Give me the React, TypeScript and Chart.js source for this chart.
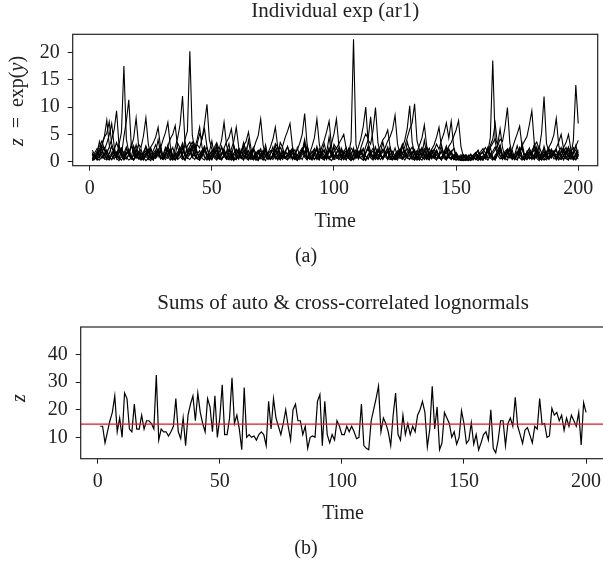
import React, { useEffect, useRef } from "react";
import { Chart, registerables } from "chart.js";
Chart.register(...registerables);

// ---------- axis settings ----------
const timeMin = -6.96;
const timeMax = 207.96;
const xTicks = [0, 50, 100, 150, 200];
const yTicksA = [0, 5, 10, 15, 20];
const yTicksB = [10, 20, 30, 40];
const yMinA = -0.73;
const yMaxA = 23.29;
const yMinB = 2.27;
const yMaxB = 49.9;
const meanLevel = 14.8;

const titleA = "Individual exp (ar1)";
const titleB = "Sums of auto & cross-correlated lognormals";
const xLabel = "Time";

// ---------- panel (a): individual series ----------
const s1 = [
  0.8, 1.2, 0.4, 1.9, 2.4, 1.1, 0.6, 1.5, 2.8, 1.3,
  0.9, 3.1, 5.4, 17.5, 4.2, 1.6, 0.5, 1.2, 2.2, 0.7,
  0.3, 1.4, 2.9, 1.7, 0.9, 0.4, 1.3, 2.1, 3.0, 0.8,
  1.1, 2.6, 1.9, 0.5, 1.2, 3.4, 2.5, 1.4, 4.1, 5.6,
  20.2, 4.8, 2.3, 1.5, 0.9, 1.7, 2.8, 1.2, 0.3, 1.0,
  1.8, 3.2, 1.3, 0.6, 0.9, 1.6, 2.2, 0.9, 0.4, 0.5,
  0.9, 1.5, 2.7, 0.6, 1.3, 2.0, 0.8, 0.3, 0.4, 0.8,
  1.4, 2.3, 1.0, 0.5, 1.1, 3.3, 2.7, 1.5, 0.8, 0.6,
  1.0, 1.7, 2.5, 0.7, 0.4, 1.2, 1.9, 3.6, 0.9, 0.5,
  0.8, 1.6, 2.1, 1.2, 0.6, 1.0, 0.5, 2.4, 1.8, 1.1,
  0.7, 1.3, 2.0, 0.6, 0.9, 1.6, 3.8, 22.4, 3.1, 1.2,
  0.6, 0.3, 1.7, 2.3, 1.5, 0.8, 0.4, 2.0, 1.3, 0.7,
  1.1, 1.8, 2.6, 0.9, 0.5, 1.5, 2.2, 1.6, 0.8, 1.2,
  1.9, 2.7, 1.5, 0.4, 1.3, 2.1, 1.4, 0.7, 0.3, 1.6,
  2.3, 1.2, 0.6, 0.9, 1.4, 2.0, 0.7, 0.8, 1.1, 1.7,
  1.0, 0.6, 0.3, 0.5, 0.9, 0.5, 0.7, 1.2, 0.8, 1.4,
  1.9, 2.6, 1.8, 4.4, 18.5, 3.6, 1.7, 1.1, 0.4, 1.5,
  2.2, 0.8, 0.9, 1.3, 2.9, 1.4, 0.5, 1.1, 1.7, 2.4,
  1.5, 0.6, 1.2, 1.8, 0.7, 0.3, 1.0, 1.6, 2.3, 1.4,
  0.8, 1.1, 1.7, 2.5, 1.6, 0.9, 1.3, 3.9, 14.0, 7.0,
];
const s2 = [
  1.7, 0.9, 0.3, 1.1, 1.8, 2.6, 1.4, 0.4, 1.3, 2.2,
  3.5, 2.1, 1.2, 4.6, 7.4, 11.3, 3.2, 1.5, 0.6, 1.4,
  2.3, 0.6, 1.0, 0.4, 1.2, 2.0, 3.1, 1.8, 0.7, 0.8,
  1.5, 2.2, 0.9, 0.5, 2.6, 4.3, 6.8, 12.0, 3.7, 1.9,
  1.2, 2.5, 3.3, 1.8, 0.6, 1.6, 2.4, 0.7, 0.4, 1.3,
  2.0, 1.4, 0.5, 1.2, 1.9, 1.0, 0.4, 1.0, 1.6, 2.3,
  1.5, 0.8, 0.3, 1.8, 1.1, 0.6, 0.9, 1.5, 2.1, 1.4,
  0.5, 1.1, 1.7, 0.9, 0.4, 1.3, 1.9, 2.6, 1.6, 0.7,
  1.4, 2.1, 1.5, 0.6, 1.2, 0.8, 2.4, 1.6, 0.5, 1.3,
  1.9, 1.3, 0.4, 1.1, 1.6, 2.2, 0.9, 0.6, 1.2, 1.8,
  2.5, 1.7, 0.6, 1.4, 2.0, 0.7, 0.3, 1.1, 1.5, 2.7,
  4.2, 6.5, 10.0, 3.4, 1.9, 0.8, 1.6, 2.3, 1.0, 0.5,
  1.3, 1.8, 0.7, 0.4, 1.0, 1.6, 2.2, 1.5, 2.8, 4.4,
  5.9, 7.1, 10.6, 3.8, 2.1, 0.9, 1.8, 2.5, 1.1, 0.6,
  1.3, 1.9, 0.8, 0.4, 1.1, 1.7, 0.9, 0.6, 1.2, 0.8,
  0.4, 0.9, 1.3, 0.6, 0.3, 0.7, 1.1, 0.5, 1.4, 1.8,
  2.4, 1.6, 0.6, 1.3, 1.9, 2.7, 1.2, 0.5, 0.8, 1.1,
  1.6, 2.2, 0.9, 0.4, 1.2, 1.7, 2.4, 1.0, 0.6, 1.4,
  2.0, 2.9, 3.6, 2.2, 5.3, 11.9, 3.3, 1.8, 0.7, 1.5,
  2.1, 0.9, 0.5, 1.3, 1.8, 2.6, 1.1, 0.6, 1.5, 2.2,
];
const s3 = [
  0.4, 0.7, 1.3, 2.0, 1.2, 0.5, 1.5, 2.7, 4.1, 5.8,
  9.3, 3.0, 1.6, 0.6, 1.4, 2.2, 0.9, 0.4, 1.2, 1.8,
  0.8, 0.5, 1.1, 1.7, 2.5, 1.0, 0.6, 1.4, 2.1, 0.9,
  0.4, 1.2, 1.9, 0.7, 0.3, 1.0, 1.6, 2.4, 1.1, 2.9,
  3.6, 2.2, 1.4, 3.3, 5.1, 4.2, 6.9, 10.5, 4.0, 2.3,
  0.9, 0.6, 1.8, 2.6, 1.0, 0.5, 1.3, 1.9, 0.7, 0.4,
  1.9, 0.8, 1.4, 2.6, 1.1, 0.4, 0.7, 1.5, 2.0, 0.6,
  1.7, 2.4, 1.0, 0.6, 1.3, 2.0, 0.8, 0.4, 1.2, 1.9,
  2.7, 1.2, 0.6, 1.5, 2.2, 3.4, 5.0, 8.8, 3.1, 1.1,
  1.0, 2.3, 0.9, 0.5, 1.8, 1.2, 0.4, 2.6, 1.3, 0.7,
  1.5, 2.1, 0.8, 0.4, 1.2, 1.7, 0.6, 0.3, 1.0, 1.6,
  2.2, 1.0, 2.8, 4.0, 3.2, 5.7, 9.9, 3.5, 1.3, 0.7,
  1.7, 2.4, 1.0, 0.5, 1.4, 2.0, 0.8, 0.4, 1.1, 1.7,
  2.5, 1.1, 0.6, 1.5, 2.2, 0.9, 0.4, 1.2, 1.8, 0.7,
  1.2, 0.5, 1.0, 2.1, 1.6, 0.6, 2.4, 1.0, 0.4, 1.5,
  0.7, 1.0, 0.4, 0.2, 0.6, 1.2, 0.9, 0.4, 0.9, 1.3,
  1.8, 0.7, 0.3, 1.0, 1.5, 2.2, 2.9, 4.1, 3.7, 6.2,
  9.9, 3.4, 1.2, 0.6, 1.6, 2.3, 0.9, 0.4, 1.3, 1.9,
  1.4, 0.6, 2.7, 1.2, 0.5, 0.9, 1.7, 0.7, 2.2, 1.1,
  0.6, 1.5, 0.9, 2.0, 1.1, 0.4, 1.9, 2.6, 1.0, 0.5,
];
const s4 = [
  1.0, 1.6, 2.4, 0.8, 2.9, 4.5, 5.2, 7.3, 3.3, 1.9,
  0.7, 1.8, 2.5, 1.0, 0.5, 1.4, 2.6, 4.3, 8.0, 3.0,
  1.1, 0.6, 1.5, 2.2, 0.8, 0.3, 1.2, 1.8, 0.7, 0.4,
  1.0, 1.5, 2.3, 0.9, 0.4, 1.3, 1.9, 2.8, 1.2, 0.6,
  1.6, 2.4, 1.0, 0.5, 1.4, 2.1, 0.8, 0.3, 1.2, 1.8,
  2.6, 3.5, 2.2, 4.0, 7.2, 3.1, 1.1, 0.5, 1.5, 2.1,
  1.3, 0.6, 2.0, 1.1, 0.4, 0.8, 2.4, 1.6, 0.7, 1.2,
  2.1, 0.9, 0.4, 1.5, 2.7, 1.0, 0.5, 1.3, 0.8, 1.9,
  1.4, 2.0, 0.8, 0.4, 1.2, 1.8, 2.5, 1.1, 0.6, 1.5,
  2.8, 4.4, 7.8, 3.2, 1.2, 0.6, 1.6, 2.3, 0.9, 0.4,
  0.6, 1.4, 2.2, 0.9, 0.3, 1.7, 1.1, 2.5, 0.7, 1.0,
  2.0, 0.8, 0.4, 1.2, 1.7, 2.5, 1.1, 0.6, 1.5, 2.2,
  0.9, 0.4, 1.3, 1.9, 0.7, 0.3, 1.4, 2.6, 4.0, 6.1,
  10.2, 3.6, 1.4, 0.7, 1.7, 2.4, 1.0, 0.5, 1.4, 2.0,
  0.7, 0.3, 1.2, 1.8, 0.6, 0.3, 1.1, 1.6, 0.5, 0.3,
  0.9, 1.3, 0.5, 0.3, 0.9, 1.4, 0.6, 1.5, 2.1, 0.8,
  0.4, 1.3, 1.9, 0.7, 0.3, 1.2, 1.8, 2.6, 1.1, 0.5,
  1.5, 2.1, 0.8, 0.4, 1.3, 1.9, 2.9, 3.8, 4.6, 6.8,
  9.3, 3.4, 1.3, 0.6, 1.7, 2.4, 1.0, 0.4, 1.4, 2.0,
  0.8, 0.3, 1.2, 1.8, 2.6, 1.1, 0.5, 1.5, 2.2, 0.9,
];
const s5 = [
  0.6, 0.9, 1.5, 2.3, 3.1, 4.6, 7.6, 3.1, 1.2, 0.5,
  1.6, 2.3, 0.9, 0.4, 1.3, 1.9, 0.7, 0.3, 1.8, 3.2,
  2.6, 4.7, 8.0, 3.2, 1.2, 0.6, 1.6, 2.3, 0.9, 0.4,
  1.4, 2.0, 0.7, 0.3, 1.2, 1.7, 2.5, 1.1, 0.5, 1.5,
  2.2, 3.0, 2.1, 0.7, 0.3, 1.2, 1.8, 2.6, 1.1, 0.5,
  1.5, 2.1, 0.8, 0.4, 1.3, 1.9, 0.7, 0.3, 1.1, 1.6,
  2.4, 1.0, 0.5, 1.4, 2.0, 0.7, 2.2, 3.6, 4.8, 7.8,
  3.0, 1.1, 0.5, 1.5, 2.1, 0.8, 0.3, 1.2, 1.8, 0.6,
  0.3, 1.0, 1.5, 2.2, 0.9, 0.4, 1.3, 1.9, 2.7, 1.2,
  0.6, 1.6, 2.3, 0.9, 2.7, 3.9, 5.5, 7.4, 2.8, 1.0,
  1.2, 0.7, 2.5, 1.4, 0.5, 0.9, 1.6, 2.2, 0.6, 1.3,
  1.6, 2.4, 1.0, 0.5, 1.4, 2.0, 0.8, 0.4, 1.2, 1.8,
  2.6, 3.8, 4.6, 5.9, 8.5, 3.3, 1.3, 0.6, 1.7, 2.4,
  1.0, 0.4, 1.4, 2.0, 0.7, 0.3, 1.1, 1.7, 2.5, 1.1,
  0.7, 2.0, 1.1, 0.4, 1.7, 2.9, 1.0, 0.5, 0.8, 1.4,
  0.4, 0.2, 0.8, 1.2, 0.5, 0.3, 0.9, 0.4, 1.0, 1.5,
  1.6, 0.6, 1.1, 2.6, 0.9, 0.4, 1.3, 2.0, 0.7, 1.1,
  2.3, 1.2, 0.5, 0.8, 1.5, 2.6, 1.0, 0.4, 1.9, 0.8,
  0.5, 1.4, 2.0, 0.8, 0.4, 1.2, 1.8, 2.7, 3.5, 4.9,
  7.9, 3.0, 1.1, 0.5, 1.5, 2.1, 0.8, 0.3, 1.3, 1.9,
];
const s6 = [
  1.4, 0.8, 1.2, 1.9, 2.8, 2.1, 3.4, 4.9, 7.0, 2.9,
  0.6, 1.9, 1.2, 0.4, 2.4, 1.5, 0.7, 0.3, 1.0, 1.7,
  1.2, 1.8, 2.6, 1.1, 0.5, 1.5, 2.1, 0.9, 2.5, 4.0,
  5.3, 7.2, 2.9, 1.0, 0.4, 1.4, 2.0, 0.7, 0.3, 1.1,
  2.2, 0.9, 1.4, 0.6, 0.3, 1.9, 2.8, 1.0, 0.5, 1.2,
  0.7, 0.3, 1.1, 1.6, 2.3, 0.9, 0.4, 2.4, 3.7, 6.3,
  2.7, 1.0, 0.4, 1.4, 2.0, 0.8, 0.3, 1.2, 1.8, 0.7,
  0.3, 1.0, 1.6, 2.7, 4.1, 6.3, 2.6, 0.9, 0.4, 1.4,
  1.5, 0.6, 2.3, 1.0, 0.4, 0.9, 1.8, 3.1, 0.8, 0.5,
  0.8, 0.4, 1.3, 1.9, 0.7, 0.3, 1.1, 1.7, 3.3, 5.1,
  7.8, 3.0, 1.1, 0.5, 1.5, 2.2, 0.9, 0.4, 1.3, 1.9,
  1.2, 2.4, 0.9, 0.5, 1.6, 0.7, 2.7, 1.1, 0.4, 0.9,
  1.7, 0.6, 0.4, 1.3, 2.5, 1.0, 0.6, 1.4, 2.1, 0.8,
  1.3, 1.9, 0.7, 0.3, 1.1, 1.6, 2.4, 1.0, 0.5, 1.4,
  2.1, 3.2, 2.3, 3.9, 5.2, 7.1, 4.3, 7.4, 2.8, 1.0,
  0.5, 0.3, 0.9, 1.3, 0.5, 0.2, 0.7, 1.1, 0.4, 1.0,
  0.8, 1.3, 2.6, 1.1, 0.5, 0.3, 1.5, 2.2, 0.7, 1.9,
  2.3, 0.9, 0.4, 1.3, 1.9, 0.7, 0.3, 1.1, 1.7, 2.5,
  0.4, 1.0, 2.1, 1.3, 0.6, 2.8, 1.2, 0.5, 0.9, 1.6,
  1.2, 1.8, 2.6, 1.1, 0.5, 1.5, 2.2, 0.9, 0.4, 1.4,
];
const s7 = [
  0.3, 0.5, 0.9, 1.4, 0.6, 1.3, 2.0, 0.8, 0.4, 1.2,
  1.8, 0.7, 0.3, 1.0, 1.6, 2.3, 0.9, 0.4, 1.3, 1.9,
  0.7, 0.3, 1.2, 1.8, 2.7, 3.4, 4.5, 6.3, 2.6, 0.9,
  2.1, 2.9, 4.2, 5.0, 6.6, 2.7, 1.0, 0.4, 1.4, 2.0,
  2.8, 3.6, 2.4, 4.1, 6.3, 2.6, 0.9, 0.4, 1.4, 2.0,
  1.6, 0.5, 0.9, 2.8, 1.3, 0.4, 0.6, 1.1, 3.0, 1.4,
  0.5, 2.2, 1.0, 0.6, 0.3, 1.5, 2.6, 1.2, 0.4, 0.8,
  1.4, 2.0, 0.8, 0.4, 1.2, 1.8, 2.6, 1.1, 2.9, 4.4,
  5.6, 7.0, 2.8, 1.0, 0.5, 1.5, 2.1, 0.8, 0.3, 1.3,
  1.2, 0.5, 0.8, 2.4, 1.6, 0.6, 1.9, 0.4, 1.1, 2.8,
  0.8, 0.4, 1.2, 1.8, 2.6, 1.1, 0.5, 1.5, 2.2, 0.9,
  2.5, 3.9, 5.1, 4.2, 8.2, 3.2, 1.2, 0.6, 1.6, 2.3,
  1.5, 2.7, 0.8, 0.5, 1.2, 0.6, 2.0, 3.2, 1.3, 0.6,
  0.5, 1.4, 2.0, 0.8, 0.4, 1.2, 1.8, 2.6, 1.1, 0.5,
  1.5, 2.2, 0.9, 0.4, 1.3, 1.9, 2.8, 3.5, 4.6, 5.8,
  7.5, 2.7, 0.9, 0.4, 0.3, 0.8, 1.2, 0.5, 0.2, 0.8,
  0.6, 1.0, 2.5, 1.4, 0.5, 0.8, 1.7, 2.9, 1.0, 0.4,
  1.9, 0.7, 2.4, 3.8, 5.1, 6.5, 2.7, 0.9, 0.4, 1.4,
  1.3, 2.9, 1.1, 0.4, 0.7, 1.5, 0.9, 2.2, 1.6, 0.5,
  0.6, 1.9, 1.0, 0.3, 1.4, 2.7, 1.2, 0.5, 0.9, 1.8,
];
const s8 = [
  2.1, 1.4, 0.5, 0.3, 1.0, 1.5, 2.2, 0.9, 0.4, 1.3,
  0.6, 2.9, 1.8, 0.4, 0.7, 1.1, 3.2, 2.0, 0.9, 0.5,
  1.6, 0.8, 0.2, 0.6, 2.3, 1.5, 0.7, 1.9, 0.5, 1.2,
  2.6, 1.0, 0.3, 0.8, 1.5, 0.6, 2.1, 3.4, 1.3, 0.7,
  0.4, 1.1, 2.7, 1.6, 0.5, 0.9, 2.4, 1.2, 0.3, 1.8,
  2.4, 1.0, 0.5, 1.4, 2.5, 3.6, 4.4, 6.0, 2.7, 1.0,
  0.5, 1.8, 2.9, 3.7, 5.4, 2.5, 0.9, 0.4, 1.4, 2.0,
  1.2, 3.1, 0.8, 0.4, 0.9, 2.2, 1.3, 0.5, 0.7, 1.6,
  2.8, 1.1, 0.6, 1.0, 0.3, 0.8, 2.0, 1.4, 3.0, 0.9,
  0.5, 1.2, 2.3, 0.7, 1.6, 3.3, 1.5, 0.6, 0.2, 0.9,
  1.7, 2.6, 1.0, 0.4, 1.1, 0.6, 2.5, 1.9, 0.8, 1.3,
  0.7, 0.3, 1.5, 2.9, 1.2, 0.5, 0.9, 2.0, 2.8, 4.0,
  4.6, 5.8, 2.6, 0.9, 0.4, 1.4, 2.0, 0.8, 0.3, 1.2,
  1.8, 0.7, 0.3, 1.8, 3.0, 4.3, 6.7, 2.7, 1.0, 2.3,
  3.1, 4.5, 6.3, 2.6, 0.9, 0.4, 1.4, 2.0, 0.7, 0.3,
  0.6, 0.3, 0.2, 0.5, 1.2, 0.5, 0.3, 1.6, 1.1, 0.4,
  0.3, 1.5, 2.2, 3.0, 4.1, 7.0, 2.8, 1.0, 0.5, 1.5,
  0.8, 2.4, 1.3, 0.6, 0.4, 1.9, 2.7, 0.9, 1.2, 0.5,
  1.0, 3.2, 1.6, 0.7, 0.3, 0.9, 1.4, 2.5, 0.8, 1.7,
  2.3, 0.6, 0.4, 1.1, 2.0, 0.9, 0.5, 1.6, 3.0, 1.2,
];
const s9 = [
  0.5, 1.1, 1.9, 2.8, 3.8, 2.2, 0.6, 0.3, 1.2, 1.7,
  0.6, 0.2, 1.0, 1.5, 2.7, 1.2, 0.5, 1.3, 3.1, 1.2,
  0.4, 1.0, 1.6, 2.3, 0.8, 0.3, 1.4, 2.0, 0.6, 0.9,
  1.2, 3.0, 1.2, 0.5, 1.1, 1.7, 2.5, 0.9, 0.3, 1.5,
  2.1, 0.8, 2.3, 3.1, 2.5, 4.2, 6.0, 2.7, 0.8, 0.3,
  1.4, 2.0, 0.6, 0.3, 1.2, 1.8, 3.3, 0.7, 0.2, 1.5,
  2.2, 0.6, 0.9, 1.3, 3.9, 1.3, 0.5, 1.1, 1.7, 2.4,
  0.6, 0.2, 1.4, 2.0, 1.4, 0.5, 1.2, 3.5, 2.6, 0.7,
  1.1, 1.5, 2.1, 0.6, 0.2, 1.3, 1.9, 4.1, 0.8, 1.1,
  1.7, 2.4, 0.7, 0.3, 1.4, 2.0, 0.6, 0.9, 1.2, 3.2,
  2.4, 3.3, 4.1, 5.0, 2.4, 0.6, 0.2, 1.3, 1.9, 0.6,
  0.8, 1.1, 1.7, 2.5, 0.7, 0.3, 1.5, 2.1, 1.4, 0.4,
  1.3, 1.9, 0.5, 0.3, 1.1, 1.6, 2.3, 0.6, 1.0, 3.6,
  2.0, 0.7, 0.3, 1.2, 1.8, 2.6, 0.8, 0.4, 1.5, 2.2,
  1.5, 0.5, 1.3, 3.1, 1.3, 0.4, 1.1, 1.7, 2.4, 0.8,
  0.5, 0.3, 0.9, 0.6, 0.2, 0.7, 1.0, 1.4, 2.0, 0.6,
  0.3, 1.2, 1.8, 2.6, 3.4, 4.2, 3.1, 6.0, 2.6, 0.7,
  0.3, 1.4, 2.0, 0.7, 0.3, 1.2, 3.4, 1.2, 0.4, 1.0,
  1.5, 2.2, 0.6, 0.2, 1.3, 1.9, 0.6, 0.8, 1.1, 1.7,
  2.5, 3.6, 5.0, 2.3, 0.6, 0.3, 1.3, 1.9, 2.8, 3.9,
];
const s10 = [
  0.2, 0.4, 1.6, 3.7, 2.0, 0.6, 0.3, 1.0, 1.5, 2.2,
  1.1, 0.5, 2.4, 1.6, 0.8, 0.3, 0.7, 2.9, 1.4, 0.6,
  0.4, 1.4, 2.0, 0.6, 0.2, 1.2, 1.8, 4.0, 1.7, 0.5,
  0.9, 0.6, 1.7, 2.6, 1.0, 0.4, 0.8, 1.3, 3.1, 1.9,
  2.4, 0.9, 0.4, 1.4, 2.0, 0.6, 0.3, 1.2, 1.8, 3.8,
  1.3, 2.7, 0.9, 0.5, 1.1, 0.7, 2.3, 1.5, 0.4, 0.8,
  1.1, 1.7, 3.5, 1.7, 0.5, 1.5, 2.1, 0.6, 0.2, 1.3,
  0.7, 2.1, 1.2, 0.5, 0.9, 3.0, 1.5, 0.4, 1.9, 0.8,
  0.6, 1.6, 0.4, 1.0, 2.6, 0.9, 0.4, 1.5, 2.2, 0.7,
  0.3, 1.3, 2.8, 1.1, 0.6, 0.4, 1.7, 4.5, 1.6, 0.5,
  1.4, 0.7, 0.3, 1.9, 1.2, 2.4, 0.8, 0.6, 1.3, 0.5,
  2.1, 0.6, 0.2, 1.3, 1.9, 0.6, 0.8, 1.1, 1.7, 3.6,
  1.6, 0.5, 2.2, 1.0, 0.4, 0.7, 1.2, 2.9, 1.4, 0.9,
  0.4, 1.5, 2.2, 0.7, 0.3, 1.3, 3.9, 1.3, 0.5, 1.1,
  0.6, 2.0, 0.9, 0.3, 1.6, 2.5, 0.8, 0.4, 1.2, 0.5,
  0.3, 0.6, 1.3, 0.9, 0.3, 0.5, 1.2, 1.7, 0.7, 0.3,
  1.1, 0.5, 2.3, 1.4, 0.7, 0.4, 2.0, 3.1, 1.0, 0.6,
  1.8, 2.6, 0.9, 0.4, 1.5, 2.2, 0.7, 0.3, 1.3, 1.9,
  0.9, 0.4, 1.1, 2.8, 1.5, 0.6, 0.3, 1.0, 2.0, 1.3,
  0.3, 1.2, 1.8, 2.6, 3.5, 5.0, 2.2, 0.6, 0.3, 1.2,
];
const individualSeries = [s1, s2, s3, s4, s5, s6, s7, s8, s9, s10];

// ---------- panel (b): sum series ----------
const sumSeries = [
  14, 14, 8, 12, 16, 19, 25, 12, 17, 10,
  26, 24, 13, 12, 22, 13, 13, 18, 13, 16,
  16, 15, 13, 32.5, 9, 13, 12, 12, 10.5, 12,
  14, 24, 12, 9.5, 17, 7, 18, 22, 25, 16,
  26, 19, 15, 12, 24, 21, 12, 25, 10, 17,
  29, 11, 11, 17, 31.5, 15, 18, 13, 5.5, 28,
  10, 11, 10, 10.5, 9, 11, 12, 11, 7, 23,
  13, 24, 17, 14, 11, 15, 20, 14, 9, 20,
  22, 16, 16, 11, 14, 6, 10, 10.5, 10, 23,
  25.5, 7, 23, 11, 8, 11, 9, 16, 14, 11,
  11, 14, 12, 14, 12, 9.5, 10, 22, 7, 6,
  5.5, 16, 20, 24, 28.5, 12, 17, 15, 12, 7,
  18, 26, 11, 9, 18, 11, 15, 11, 14, 12,
  18, 20, 23, 19, 6.5, 13, 28.5, 13, 21, 5.5,
  8, 19, 17, 15, 10, 12, 7.5, 10, 19.6, 15,
  7.8, 9, 15.3, 7.5, 11, 5.4, 8, 11, 12, 9,
  20, 6, 4.4, 9, 16, 16, 7, 15, 17, 14,
  24.5, 14, 11, 7.8, 12.6, 13.5, 10.8, 8, 14, 13,
  24, 14.6, 15, 10, 10.5, 20.5, 18, 19, 16, 18,
  12.5, 17, 14, 18, 16, 14, 19, 7.2, 22.5, 19,
];

const FONT = "'Liberation Serif', 'Times New Roman', serif";
const INK = "#222";

const toPoints = (arr: number[]) => arr.map((v, i) => ({ x: i + 1, y: v }));

type Deco = {
  title: string;
  titleY: number;
  timeY: number;
  panel: string;
  panelX: number;
  panelY: number;
  ylabX: number;
  ylabY: number;
  ylab: { t: string; italic: boolean }[];
};

const decoPlugin = (d: Deco) => ({
  id: "deco",
  afterDraw(chart: any) {
    const { ctx, chartArea: a } = chart;
    ctx.save();
    ctx.strokeStyle = INK;
    ctx.lineWidth = 1.2;
    ctx.strokeRect(a.left, a.top, a.right - a.left, a.bottom - a.top);
    ctx.fillStyle = INK;
    ctx.textAlign = "center";
    ctx.textBaseline = "alphabetic";
    const cx = (a.left + a.right) / 2;
    ctx.font = `21px ${FONT}`;
    ctx.fillText(d.title, cx, d.titleY);
    ctx.font = `20px ${FONT}`;
    ctx.fillText(xLabel, cx, d.timeY);
    ctx.fillText(d.panel, d.panelX, d.panelY);
    // rotated y label with italic parts
    ctx.translate(d.ylabX, d.ylabY);
    ctx.rotate(-Math.PI / 2);
    ctx.textAlign = "left";
    const fontOf = (p: { italic: boolean }) => `${p.italic ? "italic " : ""}20px ${FONT}`;
    let total = 0;
    for (const p of d.ylab) {
      ctx.font = fontOf(p);
      total += ctx.measureText(p.t).width;
    }
    let x = -total / 2;
    for (const p of d.ylab) {
      ctx.font = fontOf(p);
      ctx.fillText(p.t, x, 0);
      x += ctx.measureText(p.t).width;
    }
    ctx.restore();
  },
});

const xScale = (axisHeight: number) => ({
  type: "linear" as const,
  min: timeMin,
  max: timeMax,
  afterBuildTicks: (s: any) => {
    s.ticks = xTicks.map((v) => ({ value: v }));
  },
  afterFit: (s: any) => {
    s.height = axisHeight;
  },
  grid: { drawOnChartArea: false, drawTicks: true, tickLength: 5, tickColor: INK, lineWidth: 1 },
  border: { display: false },
  ticks: { color: INK, font: { family: FONT, size: 20 }, padding: 6, maxRotation: 0, autoSkip: false },
});

const yScale = (min: number, max: number, ticks: number[], axisWidth: number) => ({
  type: "linear" as const,
  min,
  max,
  afterBuildTicks: (s: any) => {
    s.ticks = ticks.map((v) => ({ value: v }));
  },
  afterFit: (s: any) => {
    s.width = axisWidth;
  },
  grid: { drawOnChartArea: false, drawTicks: true, tickLength: 5, tickColor: INK, lineWidth: 1 },
  border: { display: false },
  ticks: { color: INK, font: { family: FONT, size: 20 }, padding: 8, autoSkip: false },
});

export default function App() {
  const refA = useRef<HTMLCanvasElement>(null);
  const refB = useRef<HTMLCanvasElement>(null);

  useEffect(() => {
    const chartA = new Chart(refA.current!, {
      type: "line",
      data: {
        datasets: individualSeries.map((s) => ({
          data: toPoints(s),
          borderColor: "#000",
          borderWidth: 1.1,
          pointRadius: 0,
          tension: 0,
          fill: false,
        })),
      },
      options: {
        responsive: false,
        animation: false,
        devicePixelRatio: 1,
        layout: { padding: { top: 34.3, right: 5.3, left: 0, bottom: 0 } },
        plugins: { legend: { display: false }, tooltip: { enabled: false }, title: { display: false } },
        scales: {
          x: xScale(270 - 165.7),
          y: yScale(yMinA, yMaxA, yTicksA, 72.7),
        },
      },
      plugins: [
        decoPlugin({
          title: titleA,
          titleY: 16.5,
          timeY: 226.5,
          panel: "(a)",
          panelX: 306,
          panelY: 261.5,
          ylabX: 23,
          ylabY: 101,
          ylab: [
            { t: "z", italic: true },
            { t: "  =  exp(", italic: false },
            { t: "y", italic: true },
            { t: ")", italic: false },
          ],
        }),
      ],
    } as any);

    const chartB = new Chart(refB.current!, {
      type: "line",
      data: {
        datasets: [
          {
            data: [
              { x: timeMin, y: meanLevel },
              { x: timeMax, y: meanLevel },
            ],
            borderColor: "#e0141e",
            borderWidth: 1.2,
            pointRadius: 0,
            order: 0,
          },
          {
            data: toPoints(sumSeries),
            borderColor: "#000",
            borderWidth: 1.2,
            pointRadius: 0,
            tension: 0,
            order: 1,
          },
        ],
      },
      options: {
        responsive: false,
        animation: false,
        devicePixelRatio: 1,
        layout: { padding: { top: 57, right: 625 - 605.5, left: 0, bottom: 0 } },
        plugins: { legend: { display: false }, tooltip: { enabled: false }, title: { display: false } },
        scales: {
          x: xScale(294 - 188.7),
          y: yScale(yMinB, yMaxB, yTicksB, 80.7),
        },
      },
      plugins: [
        decoPlugin({
          title: titleB,
          titleY: 39,
          timeY: 249,
          panel: "(b)",
          panelX: 306,
          panelY: 284,
          ylabX: 25,
          ylabY: 128,
          ylab: [{ t: "z", italic: true }],
        }),
      ],
    } as any);

    return () => {
      chartA.destroy();
      chartB.destroy();
    };
  }, []);

  return (
    <div
      style={{
        position: "fixed",
        left: 0,
        top: 0,
        width: 603,
        height: 564,
        overflow: "hidden",
        background: "#fff",
      }}
    >
      <canvas ref={refA} width={603} height={270} style={{ position: "absolute", left: 0, top: 0 }} />
      <canvas ref={refB} width={625} height={294} style={{ position: "absolute", left: 0, top: 270 }} />
    </div>
  );
}
